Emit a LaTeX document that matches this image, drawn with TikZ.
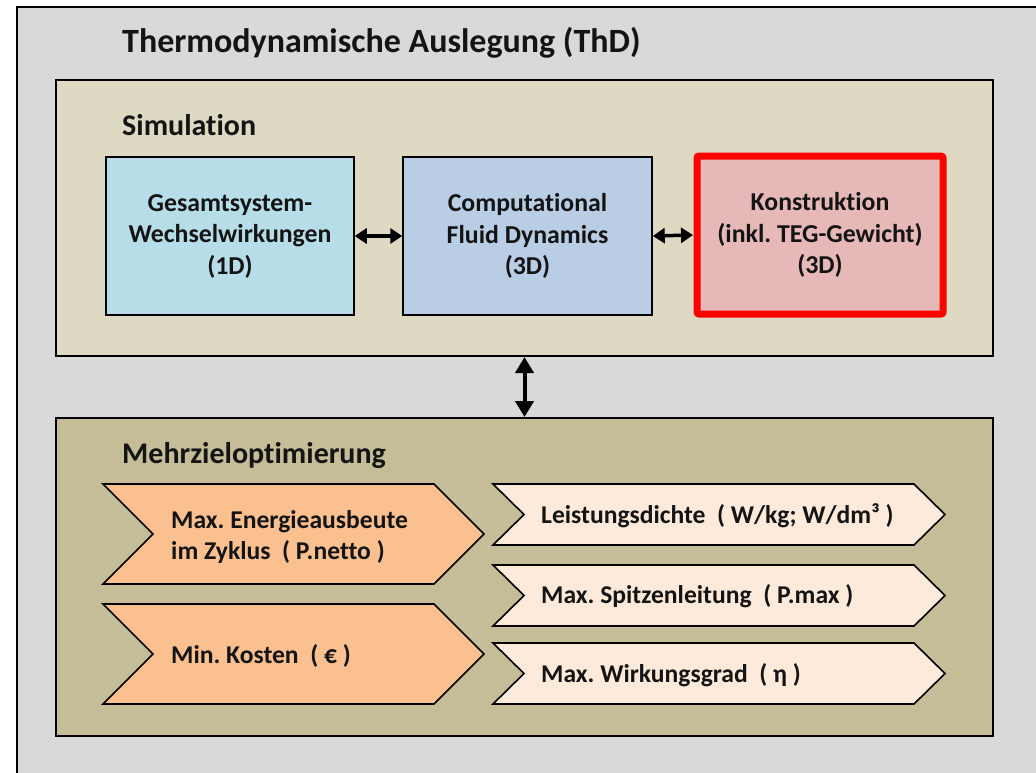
\documentclass[tikz,border=0pt]{standalone}
\usepackage{fontspec}
\setmainfont{Carlito}[Ligatures=NoCommon]
\usetikzlibrary{arrows.meta}
\frenchspacing

\definecolor{outerbg}{HTML}{D9D9D9}
\definecolor{simbg}{HTML}{DDD9C3}
\definecolor{optbg}{HTML}{C4BD97}
\definecolor{boxblue}{HTML}{B7DEE8}
\definecolor{boxsteel}{HTML}{B9CDE5}
\definecolor{boxrose}{HTML}{E6B9B8}
\definecolor{chevorange}{HTML}{FAC090}
\definecolor{chevcream}{HTML}{FDEADA}
\definecolor{txt}{HTML}{141414}

\tikzset{
  panel/.style={draw=black, line width=2pt, inner sep=0pt},
  simbox/.style={draw=black, line width=1.5pt, inner sep=0pt, align=center,
    minimum width=248pt, minimum height=158pt, text=txt,
    font=\fontsize{25.8}{31.5}\selectfont\bfseries},
  heading/.style={anchor=base west, inner sep=0pt, text=txt,
    font=\fontsize{30}{36}\selectfont\bfseries},
  chevtext/.style={anchor=base west, inner sep=0pt, align=left, text=txt,
    font=\fontsize{25.6}{31}\selectfont\bfseries},
  chev/.style={draw=black, line width=1.6pt, line join=miter},
  dbl/.style={{Triangle[length=12pt,width=15pt]}-{Triangle[length=12pt,width=15pt]},
    line width=3.5pt, black},
  dblv/.style={{Triangle[length=16pt,width=18pt]}-{Triangle[length=16pt,width=18pt]},
    line width=4pt, black}
}

% chevron: #1 fill, #2 left x, #3 right x (tip), #4 top y, #5 bottom y, #6 point depth
\newcommand{\chevronshape}[6]{%
  \draw[chev, fill=#1] (#2,#4) -- ({#3-#6},#4) -- (#3,{(#4+#5)/2})
    -- ({#3-#6},#5) -- (#2,#5) -- ({#2+#6},{(#4+#5)/2}) -- cycle;}

\begin{document}
\begin{tikzpicture}[x=1pt, y=-1pt]
  \useasboundingbox (0,0) rectangle (1036,772);

  % outer frame
  \node[panel, fill=outerbg, minimum width=1040pt, minimum height=800pt, anchor=north west]
    (frame) at (16,6) {};
  \node[heading, font=\fontsize{34}{40}\selectfont\bfseries] (title) at (122,52)
    {Thermodynamische Auslegung (ThD)};

  % simulation panel
  \node[panel, fill=simbg, minimum width=937pt, minimum height=276pt] (sim) at (524.5,218) {};
  \node[heading] (simlabel) at (122,135) {Simulation};

  \node[simbox, fill=boxblue] (gs) at (230,236)
    {Gesamtsystem-\\Wechselwirkungen\\(1D)};
  \node[simbox, fill=boxsteel, minimum width=249pt] (cfd) at (527.5,236)
    {Computational\\Fluid Dynamics\\(3D)};
  \node[simbox, draw=red, line width=7pt, rounded corners=2pt, fill=boxrose,
        minimum width=246pt, minimum height=158pt] (kon) at (820,235)
    {Konstruktion\\(inkl. TEG-Gewicht)\\(3D)};

  \draw[dbl] (gs.east) -- (cfd.west);
  \draw[dbl] (cfd.east) -- (kon.west -| 693,0);

  % optimisation panel
  \node[panel, fill=optbg, minimum width=937pt, minimum height=318pt] (opt) at (524.5,577) {};
  \node[heading] (optlabel) at (122,463) {Mehrzieloptimierung};

  \draw[dblv] (sim.south) -- (opt.north);

  % objectives
  \chevronshape{chevorange}{103}{484}{484}{584}{50}
  \chevronshape{chevorange}{103}{484}{604}{704}{50}
  \chevronshape{chevcream}{493}{945}{484}{545}{31}
  \chevronshape{chevcream}{493}{945}{565}{626}{31}
  \chevronshape{chevcream}{493}{945}{643}{704}{31}

  \node[chevtext] (energie) at (171,559) {Max. Energieausbeute\\im Zyklus~ ( P.netto )};
  \node[chevtext] (kosten) at (171,663) {Min. Kosten~ ( € )};
  \node[chevtext] (dichte) at (541,523) {Leistungsdichte~ ( W/kg; W/dm³ )};
  \node[chevtext] (spitze) at (541,603) {Max. Spitzenleitung~ ( P.max )};
  \node[chevtext] (wirk) at (541,682) {Max. Wirkungsgrad~ ( η )};
\end{tikzpicture}
\end{document}
